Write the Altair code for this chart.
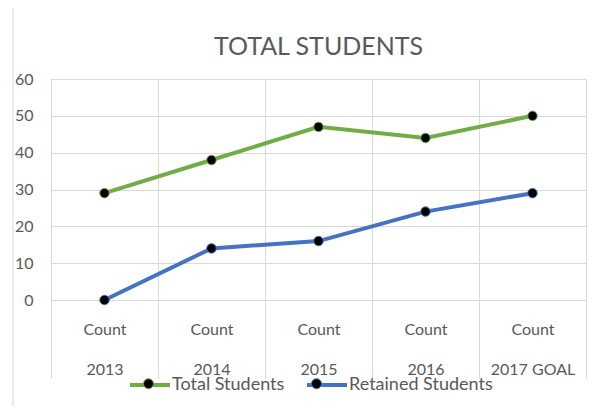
import altair as alt
import pandas as pd

years = ["2013", "2014", "2015", "2016", "2017 GOAL"]
total_students = [29, 38, 47, 44, 50]
retained_students = [0, 14, 16, 24, 29]
series_names = ["Total Students", "Retained Students"]
series_colors = ["#70AD47", "#4472C4"]
y_ticks = [0, 10, 20, 30, 40, 50, 60]
chart_title = ["TOTAL STUDENTS"]

df = pd.DataFrame({
    "year": years * 2,
    "series": [series_names[0]] * len(years) + [series_names[1]] * len(years),
    "value": total_students + retained_students,
})

GRID = "#d9d9d9"
TXT = "#595959"
LBL_FONT = "Lato"

x_enc = alt.X(
    "year:N", sort=years,
    scale=alt.Scale(paddingInner=0, paddingOuter=0),
    axis=alt.Axis(
        title=None, labelAngle=0,
        labelExpr="datum.label ? ['Count', datum.label] : ''",
        labelFont=LBL_FONT, labelFontSize=16, labelColor=TXT,
        labelLineHeight=40, labelBaseline="top", labelPadding=-57,
        tickBand="extent", tickSize=78, tickColor=GRID, tickWidth=1,
        grid=True, gridColor=GRID, domainColor=GRID,
    ),
)
y_enc = alt.Y(
    "value:Q",
    scale=alt.Scale(domain=[0, 60], nice=False),
    axis=alt.Axis(
        title=None, values=y_ticks, ticks=False, domain=False,
        labelFont=LBL_FONT, labelFontSize=16, labelColor=TXT, labelPadding=18,
        grid=True, gridColor=GRID,
    ),
)

LEG_X, LEG_Y = 77, 284
LEG_FS = 18
LEG_CP = 14
LEG_LO = 0

lines = alt.Chart(df).mark_line(strokeWidth=4).encode(
    x=x_enc, y=y_enc,
    color=alt.Color(
        "series:N",
        scale=alt.Scale(domain=series_names, range=series_colors),
        legend=alt.Legend(
            title=None, orient="none", direction="horizontal",
            legendX=LEG_X, legendY=LEG_Y,
            symbolType="stroke", symbolSize=1600, symbolStrokeWidth=4,
            labelFont=LBL_FONT, labelFontSize=LEG_FS, labelColor=TXT,
            labelOffset=LEG_LO, columnPadding=LEG_CP,
        ),
    ),
)

dot_path = "M-0.25,0A0.25,0.25,0,1,1,0.25,0A0.25,0.25,0,1,1,-0.25,0Z"
points = alt.Chart(df).mark_point(filled=True, size=90, fill="black", strokeWidth=1, opacity=1).encode(
    x=x_enc, y=y_enc,
    stroke=alt.Stroke(
        "series:N", sort=series_names,
        scale=alt.Scale(range=series_colors),
        legend=alt.Legend(
            title=None, orient="none", direction="horizontal",
            legendX=LEG_X, legendY=LEG_Y,
            symbolType=dot_path, symbolSize=1600, symbolStrokeWidth=1,
            symbolFillColor="black", symbolOpacity=1,
            labelFont=LBL_FONT, labelFontSize=LEG_FS, labelColor=TXT, labelOpacity=0,
            labelOffset=LEG_LO, columnPadding=LEG_CP,
        ),
    ),
)

border = alt.Chart(pd.DataFrame({"k": [0]})).mark_rule(color=GRID, strokeWidth=1).encode(
    x=alt.value(-38), y=alt.value(-71), y2=alt.value(327)
)

title = alt.Chart(pd.DataFrame({"t": chart_title})).mark_text(
    font="Lato", fontSize=25, color=TXT, baseline="middle", align="center"
).encode(text="t:N", x=alt.value(267.5), y=alt.value(-32))

chart = alt.layer(border, title, lines, points).properties(
    width=535, height=221,
    autosize=alt.AutoSizeParams(type="none"),
    padding={"left": 43, "top": 71, "right": 10, "bottom": 106},
).configure_view(stroke=None).configure(background="white")

chart.save("out.html", embed_options={"renderer": "svg", "actions": False})
